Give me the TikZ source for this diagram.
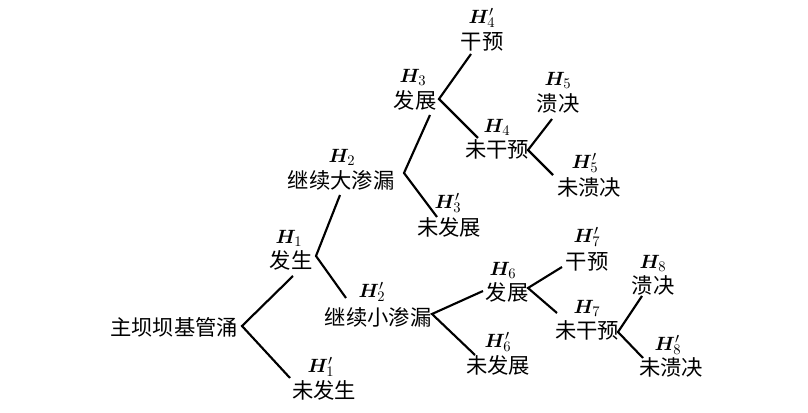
\documentclass[tikz,border=0pt]{standalone}
\usepackage{bm}
\usepackage{fontspec}
\newfontfamily\cjk{Noto Sans CJK SC}
\begin{document}
\begin{tikzpicture}[x=0.75pt,y=-0.75pt,
  lbl/.style={font=\cjk\fontsize{16}{16}\selectfont, inner sep=0pt, anchor=center},
  hl/.style={font=\fontsize{15}{15}\selectfont, inner sep=0pt, anchor=center},
  br/.style={line width=1.6pt, line join=miter}]
\useasboundingbox (0,0) rectangle (808,413);
% root
\node[lbl] (root) at (174,327) {主坝坝基管涌};
\coordinate (b0) at (242,326);
% H1
\node[hl] (h1) at (289,238) {$\bm{H}_1$};
\node[lbl] (t1) at (291,260) {发生};
\coordinate (e1) at (293,276);
\coordinate (b1) at (316,256);
\node[hl] (h1p) at (321,367) {$\bm{H}_1'$};
\node[lbl] (t1p) at (324,390) {未发生};
\coordinate (e1p) at (290,378);
% H2
\node[hl] (h2) at (342,157) {$\bm{H}_2$};
\node[lbl] (t2) at (341,180) {继续大渗漏};
\coordinate (e2) at (340,195);
\coordinate (b2) at (404,173);
\node[hl] (h2p) at (372,292) {$\bm{H}_2'$};
\node[lbl] (t2p) at (378,317) {继续小渗漏};
\coordinate (e2p) at (346,298);
\coordinate (b2p) at (432,314);
% H3
\node[hl] (h3) at (413,77) {$\bm{H}_3$};
\node[lbl] (t3) at (415,100) {发展};
\coordinate (e3) at (430,115);
\coordinate (b3) at (439,99);
\node[hl] (h3p) at (448,203) {$\bm{H}_3'$};
\node[lbl] (t3p) at (449,227) {未发展};
\coordinate (e3p) at (437,217);
% H4
\node[hl] (h4p) at (482,18) {$\bm{H}_4'$};
\node[lbl] (t4p) at (482,42) {干预};
\coordinate (e4p) at (471,54);
\node[hl] (h4) at (497,127) {$\bm{H}_4$};
\node[lbl] (t4) at (497,149) {未干预};
\coordinate (e4) at (478,138);
\coordinate (b4) at (528,150);
% H5
\node[hl] (h5) at (558,80) {$\bm{H}_5$};
\node[lbl] (t5) at (558,103) {溃决};
\coordinate (e5) at (552,119);
\node[hl] (h5p) at (585,163) {$\bm{H}_5'$};
\node[lbl] (t5p) at (589,187) {未溃决};
\coordinate (e5p) at (553,175);
% H6
\node[hl] (h6) at (503,270) {$\bm{H}_6$};
\node[lbl] (t6) at (507,292) {发展};
\coordinate (e6) at (483,291);
\coordinate (b6) at (528,288);
\node[hl] (h6p) at (498,342) {$\bm{H}_6'$};
\node[lbl] (t6p) at (498,365) {未发展};
\coordinate (e6p) at (475,355);
% H7
\node[hl] (h7p) at (587,237) {$\bm{H}_7'$};
\node[lbl] (t7p) at (587,262) {干预};
\coordinate (e7p) at (562,267);
\node[hl] (h7) at (587,308) {$\bm{H}_7$};
\node[lbl] (t7) at (587,330) {未干预};
\coordinate (e7) at (557,313);
\coordinate (b7) at (618,332);
% H8
\node[hl] (h8) at (653,263) {$\bm{H}_8$};
\node[lbl] (t8) at (653,285) {溃决};
\coordinate (e8) at (642,296);
\node[hl] (h8p) at (668,345) {$\bm{H}_8'$};
\node[lbl] (t8p) at (671,367) {未溃决};
\coordinate (e8p) at (643,358);
% branches
\draw[br] (e1) -- (b0) -- (e1p);
\draw[br] (e2) -- (b1) -- (e2p);
\draw[br] (e3) -- (b2) -- (e3p);
\draw[br] (e4p) -- (b3) -- (e4);
\draw[br] (e5) -- (b4) -- (e5p);
\draw[br] (e6) -- (b2p) -- (e6p);
\draw[br] (e7p) -- (b6) -- (e7);
\draw[br] (e8) -- (b7) -- (e8p);
\end{tikzpicture}
\end{document}
